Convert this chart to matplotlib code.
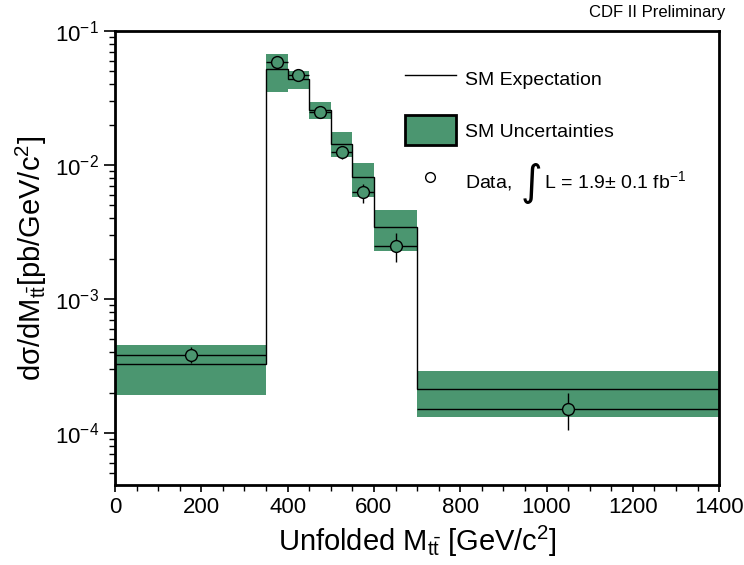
import numpy as np
import matplotlib
matplotlib.use("Agg")
import matplotlib.pyplot as plt
from matplotlib.lines import Line2D
from matplotlib.patches import Patch

plt.rcParams['font.family'] = ['Liberation Sans', 'DejaVu Sans']
plt.rcParams['mathtext.fontset'] = 'custom'
plt.rcParams['mathtext.rm'] = 'Liberation Sans'
plt.rcParams['mathtext.it'] = 'Liberation Sans'
plt.rcParams['mathtext.bf'] = 'Liberation Sans:bold'

# bin edges of the unfolded Mtt distribution [GeV/c^2]
edges = [0, 350, 400, 450, 500, 550, 600, 700, 1400]
# SM expectation per bin [pb/GeV/c^2]
sm = [3.26e-4, 5.18e-2, 4.36e-2, 2.57e-2, 1.44e-2, 8.09e-3, 3.43e-3, 2.12e-4]
sm_hi = [4.54e-4, 6.73e-2, 5.03e-2, 2.95e-2, 1.76e-2, 1.04e-2, 4.61e-3, 2.90e-4]
sm_lo = [1.93e-4, 3.52e-2, 3.67e-2, 2.22e-2, 1.153e-2, 5.81e-3, 2.29e-3, 1.32e-4]
# data points
data_x = [175, 375, 425, 475, 525, 575, 650, 1050]
data_y = [3.82e-4, 5.87e-2, 4.70e-2, 2.50e-2, 1.245e-2, 6.25e-3, 2.50e-3, 1.52e-4]
data_up = [4.38e-4, 6.1e-2, 4.85e-2, 2.6e-2, 1.38e-2, 7.2e-3, 3.12e-3, 2.0e-4]
data_dn = [3.32e-4, 5.65e-2, 4.55e-2, 2.4e-2, 1.11e-2, 5.2e-3, 1.89e-3, 1.05e-4]

green = '#4b9670'

edges = np.array(edges)
widths = np.diff(edges)
sm = np.array(sm); sm_hi = np.array(sm_hi); sm_lo = np.array(sm_lo)
data_y = np.array(data_y)
yerr = [data_y - np.array(data_dn), np.array(data_up) - data_y]
xerr = [np.array(data_x) - edges[:-1], edges[1:] - np.array(data_x)]

fig = plt.figure(figsize=(7.44, 5.65), dpi=100)
ax = fig.add_axes([0.1546, 0.1416, 0.812, 0.8035])

ax.bar(edges[:-1], sm_hi - sm_lo, width=widths, bottom=sm_lo, align='edge',
       color=green, linewidth=0, zorder=1)
ax.stairs(sm, edges, color='k', linewidth=1.0, zorder=2)
ax.errorbar(data_x, data_y, xerr=xerr, yerr=yerr, fmt='o', ms=8.5,
            mfc=green, mec='k', mew=1.0, color='k', elinewidth=1.0,
            capsize=0, zorder=3)

ax.set_yscale('log')
ax.set_xlim(0, 1400)
ax.set_ylim(4.1e-5, 0.1)
ax.set_xticks([0, 200, 400, 600, 800, 1000, 1200, 1400])
ax.set_xticks(np.arange(0, 1401, 50), minor=True)
ax.tick_params(axis='both', which='major', labelsize=16, length=8, width=1.2)
ax.tick_params(axis='both', which='minor', length=4, width=1.0)
ax.tick_params(axis='x', which='major', length=5)
for s in ax.spines.values():
    s.set_linewidth(2)

ax.set_xlabel(r'Unfolded M$_{t\bar{t}}$ [GeV/c$^2$]', fontsize=21)
ax.set_ylabel(r'd$\sigma$/dM$_{t\bar{t}}$[pb/GeV/c$^2$]', fontsize=21)

handles = [Line2D([], [], color='k', lw=1.0),
           Patch(facecolor=green, edgecolor='k', linewidth=2),
           Line2D([], [], ls='none', marker='o', ms=7, mfc='white', mec='k', mew=1.0)]
labels = ['SM Expectation', 'SM Uncertainties',
          r'Data,      L = 1.9$\pm$ 0.1 fb$^{-1}$']
leg = ax.legend(handles, labels, loc='upper left', bbox_to_anchor=(0.451, 0.966),
                frameon=False, fontsize=14, handlelength=2.6, handleheight=2.0,
                labelspacing=1.1, handletextpad=0.5)
# big integral sign in the data label (drawn after the legend)
ax.annotate('\u222b', xy=(0, 0.5), xycoords=leg.get_texts()[2],
            xytext=(40, -1), textcoords='offset points', ha='left', va='center',
            fontsize=30, family='DejaVu Sans', zorder=10)

fig.text(0.975, 0.977, 'CDF II Preliminary', ha='right', va='center', fontsize=12)

fig.savefig('out.png', dpi=100)
